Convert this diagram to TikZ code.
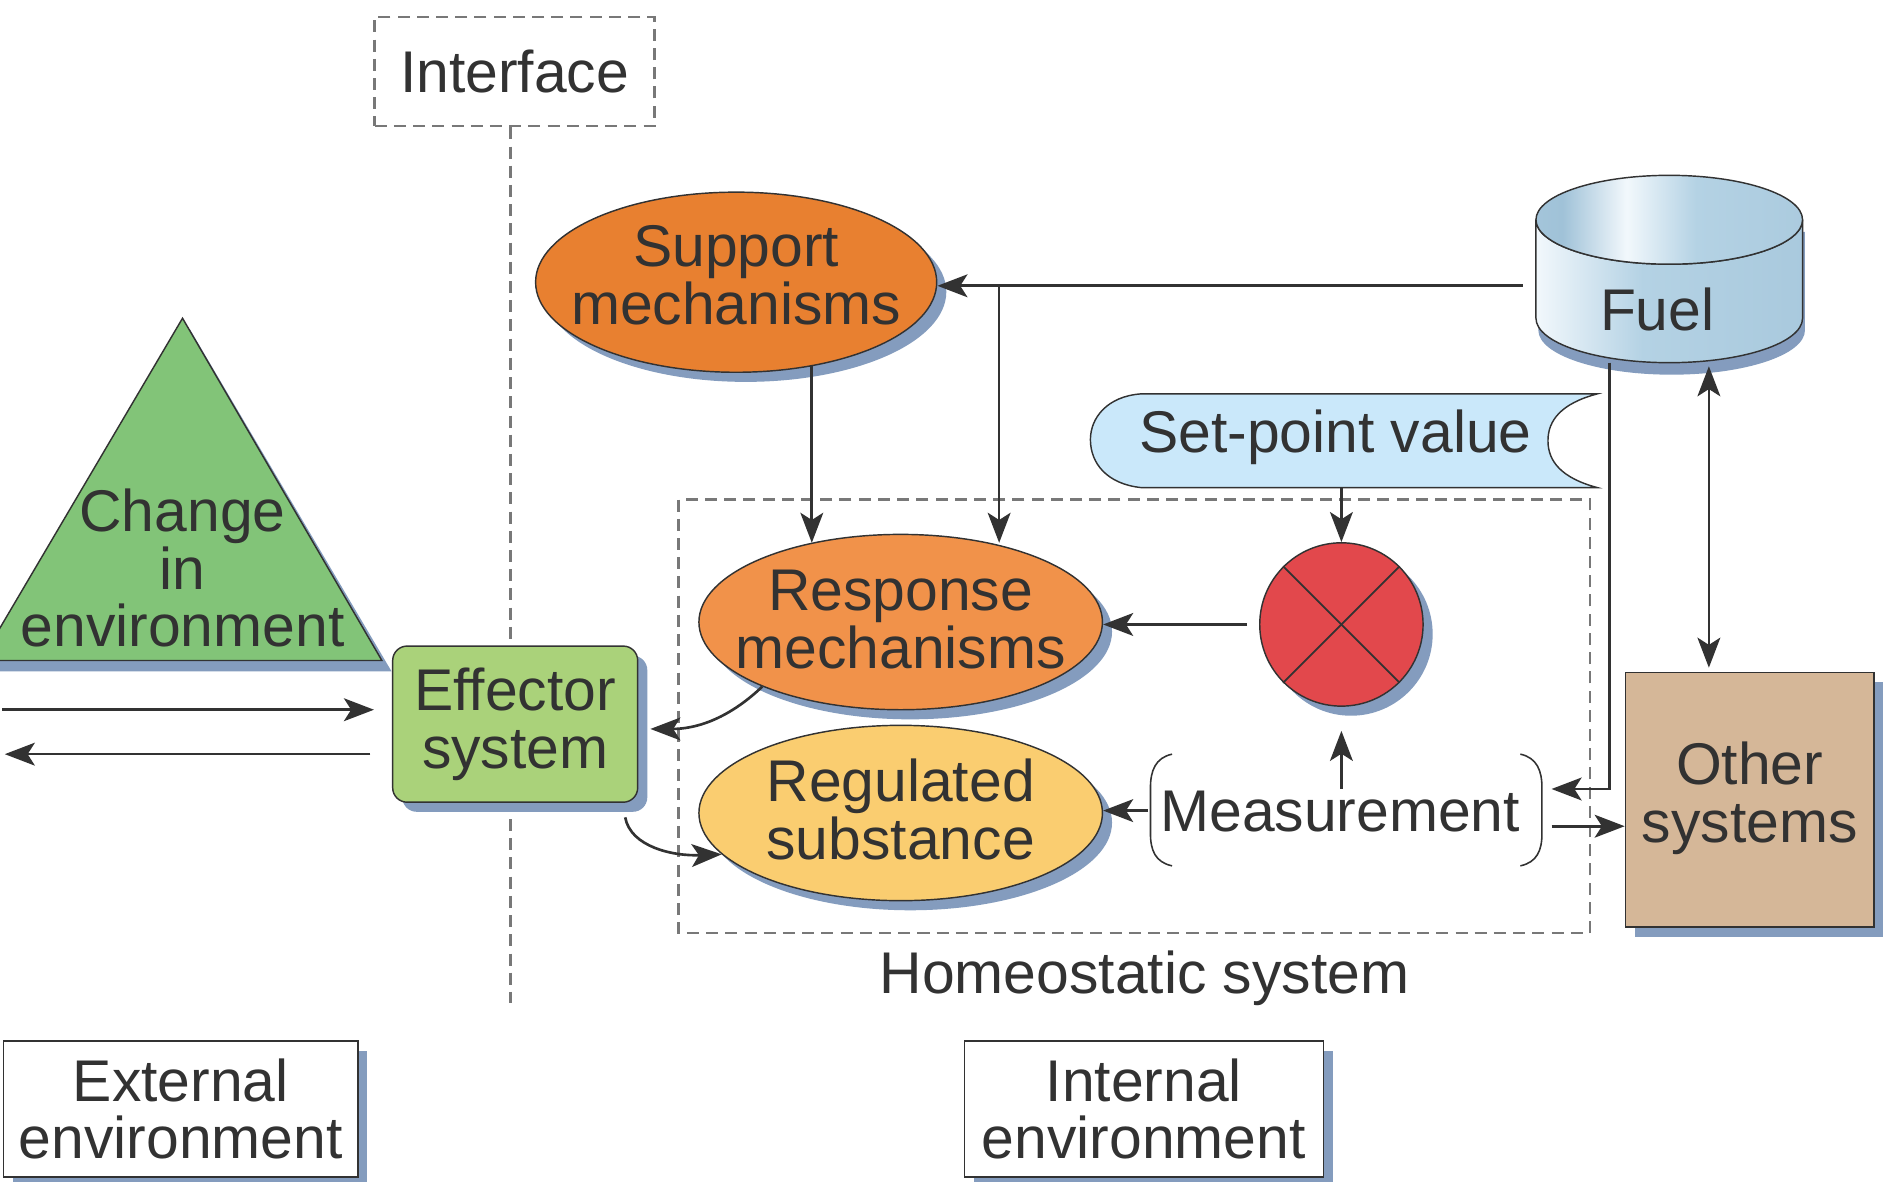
\documentclass[tikz,border=0pt]{standalone}
\usepackage{fontspec}
\setmainfont{Liberation Sans}
\usetikzlibrary{arrows.meta,shapes.geometric,shadows,calc}
\definecolor{ink}{RGB}{50,50,50}
\definecolor{shad}{RGB}{132,156,190}
\definecolor{suporange}{RGB}{232,128,48}
\definecolor{resorange}{RGB}{241,146,74}
\definecolor{regyellow}{RGB}{250,205,112}
\definecolor{compred}{RGB}{226,72,76}
\definecolor{effgreen}{RGB}{170,210,122}
\definecolor{trigreen}{RGB}{130,196,120}
\definecolor{othertan}{RGB}{213,183,152}
\definecolor{setblue}{RGB}{202,232,250}
\definecolor{fuelblue}{RGB}{180,210,228}
\definecolor{fueldark}{RGB}{160,194,216}
\definecolor{fuellight}{RGB}{242,248,252}
\definecolor{dashgray}{RGB}{120,120,120}
\pgfdeclarehorizontalshading{fuelbody}{100bp}{color(0bp)=(fuelblue); color(10bp)=(fueldark); color(25bp)=(fuellight); color(45bp)=(fuelblue); color(100bp)=(fueldark)}
\pgfdeclarehorizontalshading{fueltop}{100bp}{color(0bp)=(fuelblue); color(30bp)=(fueldark); color(42bp)=(fuellight); color(55bp)=(fuelblue); color(100bp)=(fueldark)}
\tikzset{
  lbl/.style={font=\fontsize{49}{48}\selectfont, text=ink, align=center, inner sep=0pt},
  tip/.tip={Stealth[length=25pt,width=19pt,inset=6pt]},
  conn/.style={draw=ink, line width=2.2pt, -tip},
  conntwo/.style={draw=ink, line width=2.2pt, tip-tip},
  dashline/.style={draw=dashgray, line width=2pt, dash pattern=on 10pt off 6pt},
  shadowed/.style={drop shadow={shadow xshift=8pt, shadow yshift=-8pt, fill=shad, opacity=1}},
  ellnode/.style={ellipse, draw=ink, line width=1.2pt, minimum width=336pt, minimum height=146pt, inner sep=0pt, shadowed},
  boxnode/.style={rectangle, draw=ink, line width=1.2pt, inner sep=0pt, shadowed},
}
\begin{document}
\begin{tikzpicture}[x=1pt,y=-1pt]
\useasboundingbox (0,0) rectangle (1568,984);
\fill[white] (0,0) rectangle (1568,984);
\begin{scope}
\clip (0,0) rectangle (1568,984);

% interface
\node[rectangle, dashline, minimum width=233pt, minimum height=91pt, lbl] (iface) at (428.5,59.5) {Interface};
\draw[dashline] (iface.south -| 425,0) -- (425,835);

% homeostatic system
\draw[dashline] (565,416) rectangle (1324,777);
\node[lbl] (homeo) at (953,815) {Homeostatic system};

% triangle
\fill[shad] (-14,559) -- (326,559) -- (158,274) -- cycle;
\draw[ink, fill=trigreen, line width=1.2pt] (-16,550) -- (318,550) -- (152,265) -- cycle;
\node[lbl] (chg) at (152,473) {Change\\in\\environment};

% effector
\node[boxnode, rounded corners=12pt, fill=effgreen, minimum width=204pt, minimum height=130pt] (eff) at (429,603) {};
\node[lbl] at (eff) {Effector\\system};

% support
\node[ellnode, fill=suporange, minimum width=334pt, minimum height=150pt] (sup) at (613,235) {};
\node[lbl] at (613,229) {Support\\mechanisms};

% response
\node[ellnode, fill=resorange] (res) at (750,518) {};
\node[lbl] at (750,516) {Response\\mechanisms};

% regulated
\node[ellnode, fill=regyellow] (reg) at (750,677) {};
\node[lbl] at (750,674) {Regulated\\substance};

% comparator
\node[circle, draw=ink, line width=1.2pt, fill=compred, minimum size=136pt, inner sep=0pt, shadowed] (cmp) at (1117,520) {};
\draw[ink, line width=1.5pt] (cmp.45) -- (cmp.225);
\draw[ink, line width=1.5pt] (cmp.135) -- (cmp.315);

% set-point value
\filldraw[draw=ink, fill=setblue, line width=1.2pt] (1330,328) -- (950,328) .. controls (922,330) and (908,348) .. (908,366) .. controls (908,386) and (922,403) .. (950,406) -- (1330,406) .. controls (1300,398) and (1289,384) .. (1289,367) .. controls (1289,350) and (1300,336) .. (1330,328) -- cycle;
\node[inner sep=0pt, minimum width=422pt, minimum height=78pt] (set) at (1119,367) {};
\node[lbl] at (1112,364) {Set-point value};

% fuel cylinder
\fill[shad] (1281,193) -- (1281,275) arc (180:360:111pt and 37pt) -- (1503,193) -- cycle;
\shade[shading=fuelbody, draw=ink, line width=1.2pt] (1279,183) -- (1279,265) arc (180:360:111pt and 37pt) -- (1501,183) arc (0:-180:111pt and 37pt) -- cycle;
\shade[shading=fueltop, draw=ink, line width=1.2pt] (1390,183) ellipse (111pt and 37pt);
\node[inner sep=0pt, minimum width=222pt, minimum height=156pt] (fuel) at (1390,224) {};
\node[lbl] at (1380,258) {Fuel};

% other systems
\node[boxnode, fill=othertan, minimum width=207pt, minimum height=212pt] (oth) at (1457,666) {};
\node[lbl] at (1457,665) {Other\\systems};

% measurement
\node[lbl] (meas) at (1116,676) {Measurement};
\draw[ink, line width=1.3pt] (976,628) .. controls (962,631) and (958,642) .. (958,656) -- (958,694) .. controls (958,708) and (962,718) .. (976,721);
\draw[ink, line width=1.3pt] (1266,628) .. controls (1280,631) and (1284,642) .. (1284,656) -- (1284,694) .. controls (1284,708) and (1280,718) .. (1266,721);

% environment boxes
\node[boxnode, fill=white, minimum width=295pt, minimum height=113pt] (ext) at (150.5,923.5) {};
\node[lbl] at (ext) {External\\environment};
\node[boxnode, fill=white, minimum width=299pt, minimum height=113pt] (int) at (952.5,923.5) {};
\node[lbl] at (int) {Internal\\environment};

% connectors
\coordinate (fuelL) at (1268,238);
\coordinate (branch) at (832,238);
\coordinate (resTop) at (832,452);
\coordinate (supBot) at (676,305);
\coordinate (resTopL) at (676,452);
\draw[conn] (fuelL) -- (sup.east |- fuelL);
\draw[conn] (branch) -- (resTop);
\draw[conn] (supBot) -- (resTopL);
\draw[conn] (set.south -| cmp.north) -- (cmp.north);
\draw[conn] ([xshift=-10pt]cmp.west) -- (res.east |- cmp.west);
\coordinate (measL) at (956,675);
\coordinate (measT) at (1117,657);
\draw[conn] (measL) -- (reg.east |- measL);
\draw[conn] (measT) -- ([yshift=-20pt]cmp.south);
\coordinate (fuelB) at (1340,302);
\coordinate (corner) at (1340,657);
\coordinate (measR) at (1292,657);
\draw[conn] (fuelB) -- (corner) -- (measR);
\coordinate (measR2) at (1292,688);
\draw[conn] (measR2) -- (oth.west |- measR2);
\coordinate (fuelB2) at (1423,305);
\coordinate (othT) at (1423,556);
\draw[conntwo] (fuelB2) -- (othT);
\coordinate (inL) at (2,591);
\coordinate (outL) at (4,628);
\draw[conn] (inL) -- ([xshift=-15pt]eff.west |- inL);
\draw[conn] ([xshift=-18pt]eff.west |- outL) -- (outL);
\draw[conn] (res.205) .. controls (605,600) and (578,607) .. ([xshift=10pt,yshift=-4pt]eff.east);
\draw[conn] ([xshift=-11pt,yshift=-12pt]eff.south east) .. controls (525,705) and (560,713) .. (reg.193);
\end{scope}
\end{tikzpicture}
\end{document}
